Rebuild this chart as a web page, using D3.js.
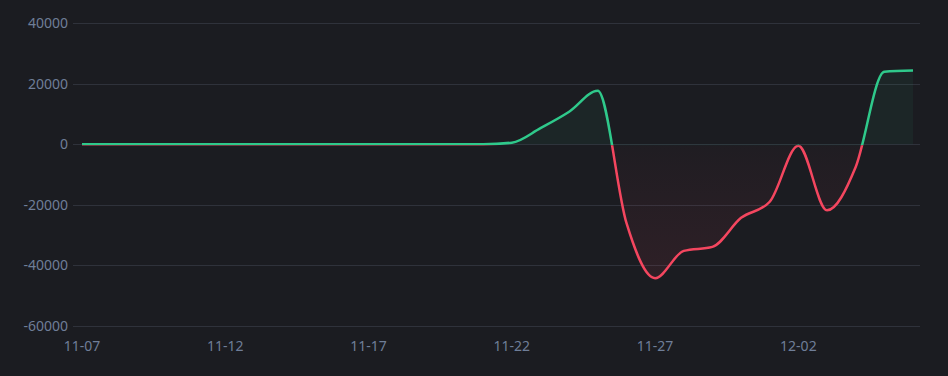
<!DOCTYPE html>
<html>
<head>
<meta charset="utf-8">
<script src="https://cdn.jsdelivr.net/npm/d3@7"></script>
<style>
  html, body { margin: 0; padding: 0; background: #1b1c21; }
  svg { display: block; }
</style>
</head>
<body>
<svg id="chart"></svg>
<script>
// daily dates and net values
const dates = ["11-07","11-08","11-09","11-10","11-11","11-12","11-13","11-14","11-15","11-16",
  "11-17","11-18","11-19","11-20","11-21","11-22","11-23","11-24","11-25","11-26",
  "11-27","11-28","11-29","11-30","12-01","12-02","12-03","12-04","12-05","12-06"];
const values = [0,0,0,0,0,0,0,0,0,0,
  0,0,0,0,0,500,5300,10700,17600,-26000,
  -44200,-35200,-33900,-24300,-19000,-500,-21800,-7500,23900,24300];
const yTicks = [-60000,-40000,-20000,0,20000,40000];
const xTickLabels = ["11-07","11-12","11-17","11-22","11-27","12-02"];

const width = 948, height = 376;
const margin = {top: 23, right: 28, bottom: 50, left: 73};
const up = "#2fc98b", down = "#f4465f";

const svg = d3.select("#chart")
  .attr("width", width)
  .attr("height", height)
  .style("font", "14px 'Noto Sans', sans-serif");

const x = d3.scalePoint()
  .domain(dates)
  .range([82, 913]);

const y = d3.scaleLinear()
  .domain([-60000, 40000])
  .range([height - margin.bottom, margin.top]);

// grid
svg.append("g")
  .selectAll("line")
  .data(yTicks)
  .join("line")
  .attr("x1", margin.left)
  .attr("x2", width - margin.right)
  .attr("y1", d => Math.round(y(d)) + 0.5)
  .attr("y2", d => Math.round(y(d)) + 0.5)
  .attr("stroke", "#2f323b")
  .attr("stroke-width", 1);

// y labels
svg.append("g")
  .attr("text-anchor", "end")
  .attr("fill", "#6f7e98")
  .selectAll("text")
  .data(yTicks)
  .join("text")
  .attr("x", 68)
  .attr("y", d => y(d))
  .attr("dy", "0.35em")
  .text(d => d);

// x labels
svg.append("g")
  .attr("text-anchor", "middle")
  .attr("fill", "#6f7e98")
  .selectAll("text")
  .data(xTickLabels)
  .join("text")
  .attr("x", d => x(d))
  .attr("y", 346)
  .attr("dy", "0.35em")
  .text(d => d);

const data = dates.map((d, i) => ({date: d, value: values[i]}));
const y0 = y(0);
const split = y0 + 1;

const defs = svg.append("defs");
defs.append("clipPath").attr("id", "clip-up")
  .append("rect").attr("x", 0).attr("y", 0).attr("width", width).attr("height", split);
defs.append("clipPath").attr("id", "clip-down")
  .append("rect").attr("x", 0).attr("y", split).attr("width", width).attr("height", height - split);

const grad = defs.append("linearGradient")
  .attr("id", "down-fill")
  .attr("gradientUnits", "userSpaceOnUse")
  .attr("x1", 0).attr("x2", 0)
  .attr("y1", y0).attr("y2", y(d3.min(values)));
grad.append("stop").attr("offset", 0).attr("stop-color", down).attr("stop-opacity", 0.02);
grad.append("stop").attr("offset", 1).attr("stop-color", down).attr("stop-opacity", 0.09);

const area = d3.area()
  .x(d => x(d.date))
  .y0(y0)
  .y1(d => y(d.value))
  .curve(d3.curveMonotoneX);

const line = d3.line()
  .x(d => x(d.date))
  .y(d => y(d.value))
  .curve(d3.curveMonotoneX);

[["clip-up", up, "rgba(47,201,139,0.06)"], ["clip-down", down, "url(#down-fill)"]].forEach(([id, c, fill]) => {
  const g = svg.append("g").attr("clip-path", `url(#${id})`);
  g.append("path")
    .datum(data)
    .attr("d", area)
    .attr("fill", fill);
  g.append("path")
    .datum(data)
    .attr("d", line)
    .attr("fill", "none")
    .attr("stroke", c)
    .attr("stroke-width", 2.5)
    .attr("stroke-linejoin", "round");
});
</script>
</body>
</html>
